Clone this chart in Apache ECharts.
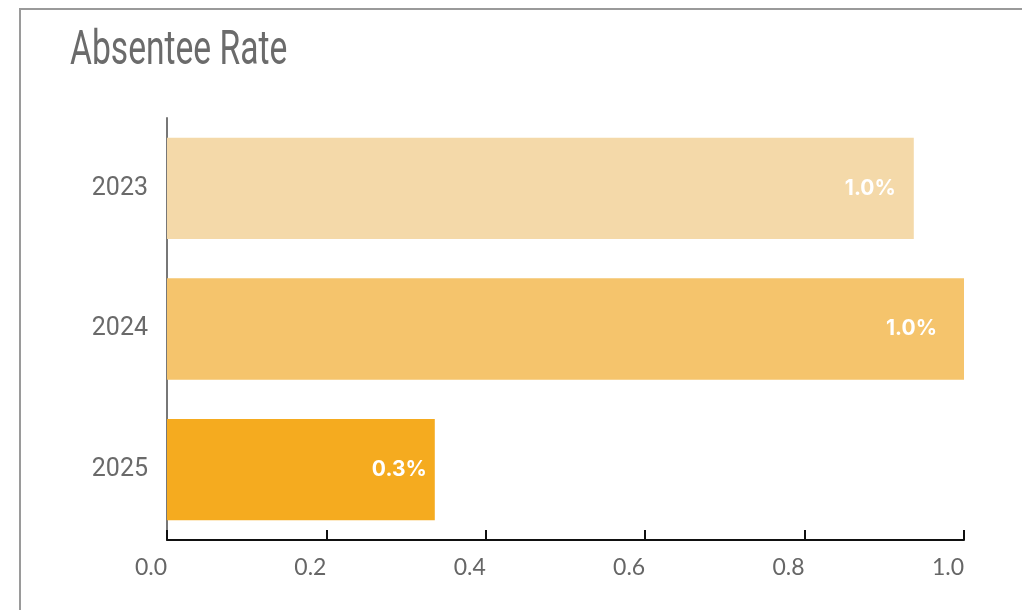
<!DOCTYPE html>
<html>
<head>
<meta charset="utf-8">
<script src="https://cdn.jsdelivr.net/npm/echarts@6/dist/echarts.min.js"></script>
<style>
  html, body { margin: 0; padding: 0; background: #fff; overflow: hidden; }
  .frame {
    position: absolute;
    left: 19px;
    top: 8px;
    width: 1100px;
    height: 700px;
    border: 2px solid #9a9a9a;
  }
  .title {
    position: absolute;
    left: 70px;
    top: 20px;
    font-family: 'Roboto', sans-serif;
    font-weight: 400;
    font-size: 48px;
    line-height: 56px;
    color: #6b6b6b;
    transform: scaleX(0.7);
    transform-origin: left top;
    white-space: nowrap;
  }
  #barChart { position: absolute; left: 0; top: 0; width: 1022px; height: 610px; }
</style>
</head>
<body>
<div class="frame"></div>
<div id="barChart"></div>
<div class="title">Absentee Rate</div>
<script>
// 分类 / 数值
const years = ['2023', '2024', '2025']
const rates = [0.937, 1.0, 0.336]
const rateLabels = ['1.0%', '1.0%', '0.3%']
const barColors = ['#f4d9a9', '#f5c46c', '#f5ab1f']
const xTicks = [0, 0.2, 0.4, 0.6, 0.8, 1.0]

// 标签离柱子右端的距离
const labelGap = [18, 27, 8]

const myChart = echarts.init(document.getElementById('barChart'))

const options = {
  animation: false,
  grid: {
    left: 167,
    right: 58,
    top: 118,
    bottom: 70,
    containLabel: false
  },
  xAxis: {
    type: 'value',
    min: xTicks[0],
    max: xTicks[xTicks.length - 1],
    interval: 0.2,
    axisLine: {
      show: true,
      lineStyle: { color: '#111', width: 2 }
    },
    axisTick: {
      show: true,
      inside: true,
      length: 10,
      lineStyle: { color: '#111', width: 2 }
    },
    splitLine: { show: false },
    axisLabel: {
      margin: 16,
      color: '#666',
      fontSize: 23,
      align: 'right',
      fontFamily: 'Lato, sans-serif',
      formatter: v => v.toFixed(1)
    }
  },
  yAxis: {
    type: 'category',
    inverse: true,
    data: years,
    axisLine: {
      show: true,
      lineStyle: { color: '#777', width: 2 }
    },
    axisTick: { show: false },
    axisLabel: {
      margin: 19,
      color: '#6a6a6a',
      fontSize: 25,
      fontFamily: 'Roboto, sans-serif'
    }
  },
  series: [
    {
      type: 'bar',
      barWidth: '72%',
      data: rates.map((v, i) => ({
        value: v,
        itemStyle: { color: barColors[i] },
        label: { distance: labelGap[i] }
      })),
      label: {
        show: true,
        position: 'insideRight',
        color: '#fff',
        fontWeight: 'bold',
        fontSize: 21,
        fontFamily: 'Inter, sans-serif',
        formatter: p => rateLabels[p.dataIndex]
      }
    }
  ]
}

myChart.setOption(options)
</script>
</body>
</html>
